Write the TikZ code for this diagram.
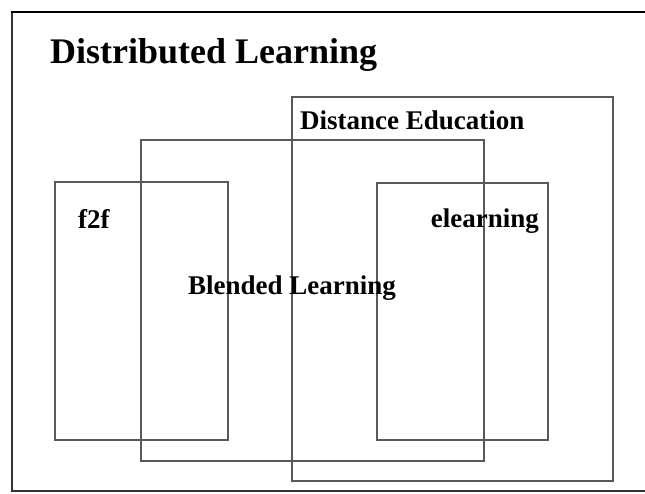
\documentclass[tikz,border=0pt]{standalone}
\usepackage{fontspec}
\setmainfont{Liberation Serif}
\begin{document}
\begin{tikzpicture}[x=1pt, y=-1pt,
      tag/.style={inner sep=0pt, anchor=base west, font=\bfseries\fontsize{27}{30}\selectfont},
      box/.style={line width=1.3pt, black!65}]
      \useasboundingbox (0, 0) rectangle (645, 493);
      \clip (0, 0) rectangle (645, 493);
      % frame, open on the right
      \draw [line width=1.6pt, black!80] (12, 12) -- (12, 491) -- (660, 491);
      \draw [line width=2.6pt] (11, 12) -- (660, 12);
      \draw [box] (55, 182) rectangle (228, 440) node (f2fbox) [pos=.5] {}
                  (141, 140) rectangle (484, 461) node (blendbox) [pos=.5] {}
                  (377, 183) rectangle (548, 440) node (ebox) [pos=.5] {}
                  (292, 97) rectangle (613, 481) node (distbox) [pos=.5] {};
      \node (title) [tag, font=\bfseries\fontsize{36}{40}\selectfont] at (50, 63) {Distributed Learning};
      \node (dist) [tag] at (300, 129) {Distance Education};
      \node (f2f) [tag] at (78, 228) {f2f};
      \node (elearn) [tag, anchor=base east] at (539, 227) {elearning};
      \node (blend) [tag] at (188, 294) {Blended Learning};
\end{tikzpicture}
\end{document}
